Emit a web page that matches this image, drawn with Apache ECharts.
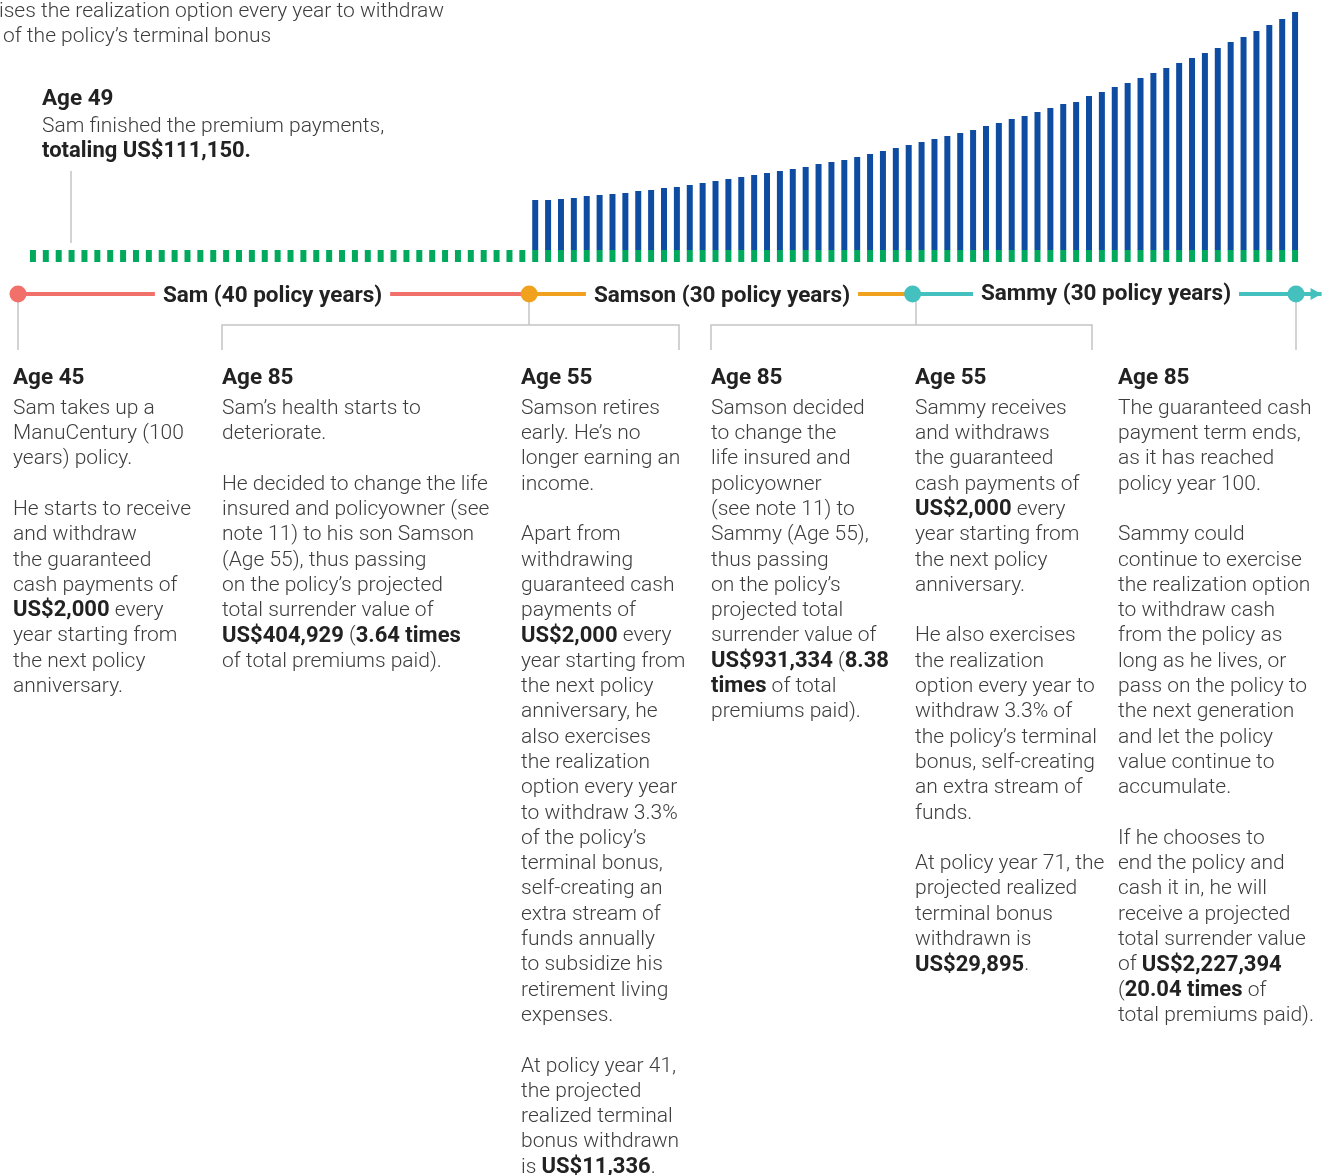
<!DOCTYPE html>
<html>
<head>
<meta charset="utf-8">
<title>ManuCentury policy timeline</title>
<script src="https://cdn.jsdelivr.net/npm/echarts@6/dist/echarts.min.js"></script>
<style>
  html, body { margin: 0; padding: 0; background: #fff; }
  #chart { width: 1332px; height: 1175px; }
</style>
</head>
<body>
<div id="chart"></div>
<script>
// policy years shown as bars (one bar per year)
const years = Array.from({ length: 99 }, (_, i) => i + 1);

// guaranteed cash payment (green, relative height)
const cashPayment = [
  12, 12, 12, 12, 12, 12, 12, 12, 12, 12, 12, 12, 12, 12, 12, 12, 12, 12, 12, 12,
  12, 12, 12, 12, 12, 12, 12, 12, 12, 12, 12, 12, 12, 12, 12, 12, 12, 12, 12, 12,
  12, 12, 12, 12, 12, 12, 12, 12, 12, 12, 12, 12, 12, 12, 12, 12, 12, 12, 12, 12,
  12, 12, 12, 12, 12, 12, 12, 12, 12, 12, 12, 12, 12, 12, 12, 12, 12, 12, 12, 12,
  12, 12, 12, 12, 12, 12, 12, 12, 12, 12, 12, 12, 12, 12, 12, 12, 12, 12, 12
];

// realized terminal bonus (blue, relative height), starts at the 40th bar
const bonusStart = 39;
const bonusValue = [
  50, 50, 51, 52, 54, 55, 56, 57, 59, 60, 62, 63, 65, 67, 69, 71, 73, 75, 77, 79,
  81, 83, 86, 88, 90, 93, 96, 99, 102, 105, 108, 111, 114, 117, 120, 124, 127, 131, 134, 138,
  142, 146, 148, 154, 158, 163, 167, 172, 177, 182, 187, 192, 197, 202, 208, 213, 219, 225, 231, 238
];

// timeline phases (policy years); the last entry is where the arrow ends
const phaseYears = [0, 40, 70, 100];
const arrowEnd = 102;
const phaseNames = ['Sam (40 policy years)', 'Samson (30 policy years)', 'Sammy (30 policy years)'];

// notes under the timeline
const notes = [
  { head: 'Age 45', lines: [
    'Sam takes up a', 'ManuCentury (100', 'years) policy.', ' ',
    'He starts to receive', 'and withdraw', 'the guaranteed', 'cash payments of',
    '{b|US$2,000} every', 'year starting from', 'the next policy', 'anniversary.'] },
  { head: 'Age 85', lines: [
    'Sam\u2019s health starts to', 'deteriorate.', ' ',
    'He decided to change the life', 'insured and policyowner (see', 'note 11) to his son Samson',
    '(Age 55), thus passing', 'on the policy\u2019s projected', 'total surrender value of',
    '{b|US$404,929} ({b|3.64 times}', 'of total premiums paid).'] },
  { head: 'Age 55', lines: [
    'Samson retires', 'early. He\u2019s no', 'longer earning an', 'income.', ' ',
    'Apart from', 'withdrawing', 'guaranteed cash', 'payments of', '{b|US$2,000} every',
    'year starting from', 'the next policy', 'anniversary, he', 'also exercises',
    'the realization', 'option every year', 'to withdraw 3.3%', 'of the policy\u2019s',
    'terminal bonus,', 'self-creating an', 'extra stream of', 'funds annually',
    'to subsidize his', 'retirement living', 'expenses.', ' ',
    'At policy year 41,', 'the projected', 'realized terminal', 'bonus withdrawn',
    'is {b|US$11,336}.'] },
  { head: 'Age 85', lines: [
    'Samson decided', 'to change the', 'life insured and', 'policyowner',
    '(see note 11) to', 'Sammy (Age 55),', 'thus passing', 'on the policy\u2019s',
    'projected total', 'surrender value of', '{b|US$931,334} ({b|8.38}',
    '{b|times} of total', 'premiums paid).'] },
  { head: 'Age 55', lines: [
    'Sammy receives', 'and withdraws', 'the guaranteed', 'cash payments of',
    '{b|US$2,000} every', 'year starting from', 'the next policy', 'anniversary.', ' ',
    'He also exercises', 'the realization', 'option every year to', 'withdraw 3.3% of',
    'the policy\u2019s terminal', 'bonus, self-creating', 'an extra stream of', 'funds.', ' ',
    'At policy year 71, the', 'projected realized', 'terminal bonus', 'withdrawn is',
    '{b|US$29,895}.'] },
  { head: 'Age 85', lines: [
    'The guaranteed cash', 'payment term ends,', 'as it has reached', 'policy year 100.', ' ',
    'Sammy could', 'continue to exercise', 'the realization option', 'to withdraw cash',
    'from the policy as', 'long as he lives, or', 'pass on the policy to', 'the next generation',
    'and let the policy', 'value continue to', 'accumulate.', ' ',
    'If he chooses to', 'end the policy and', 'cash it in, he will', 'receive a projected',
    'total surrender value', 'of {b|US$2,227,394}', '({b|20.04 times} of',
    'total premiums paid).'] }
];
const noteX = [13, 222, 521, 711, 915, 1118];

const FONT = 'Roboto, "Noto Sans", sans-serif';
const BODY = '#3d3d3d';
const DARK = '#222';
const GREY = '#c4c4c4';
const LH = 25.3;
const DY = 2.5; // optical shift so glyphs sit like the reference

const chart = echarts.init(document.getElementById('chart'));

function bodyText(x, cy, lines) {
  return {
    type: 'text', z: 10,
    style: {
      x: x, y: cy - LH / 2 + DY, text: lines.join('\n'),
      fontFamily: FONT, fontSize: 21, fontWeight: 300, fill: BODY,
      lineHeight: LH, verticalAlign: 'top',
      rich: { b: { fontFamily: FONT, fontSize: 22, fontWeight: 'bold', fill: DARK, lineHeight: LH } }
    }
  };
}
function headText(x, cy, text) {
  return {
    type: 'text', z: 10,
    style: { x: x, y: cy + DY, text: text, fontFamily: FONT, fontSize: 22.5, fontWeight: 'bold',
      fill: DARK, verticalAlign: 'middle' }
  };
}
function greyLine(points) {
  return { type: 'polyline', z: 1, shape: { points: points },
    style: { stroke: GREY, lineWidth: 1.5, fill: null } };
}
function phaseLabel(cx, cy, text) {
  return {
    type: 'text', z: 20,
    style: { x: cx, y: cy + DY, text: text, fontFamily: FONT, fontSize: 22.5, fontWeight: 'bold',
      fill: DARK, align: 'center', verticalAlign: 'middle',
      backgroundColor: '#fff', padding: [2, 8] }
  };
}

const graphic = [
  // clipped annotation at the top-left
  bodyText(-1, 9, ['ises the realization option every year to withdraw']),
  bodyText(3, 34, ['of the policy\u2019s terminal bonus']),
  // age 49 callout
  headText(42, 97, 'Age 49'),
  bodyText(42, 124, ['Sam finished the premium payments,', '{b|totaling US$111,150.}']),
  greyLine([[71, 171], [71, 243]]),
  // connectors and brackets below the timeline
  greyLine([[18, 294], [18, 350]]),
  greyLine([[529, 294], [529, 325]]),
  greyLine([[222, 350], [222, 325], [679, 325], [679, 350]]),
  greyLine([[916, 294], [916, 325]]),
  greyLine([[711, 350], [711, 325], [1092, 325], [1092, 350]]),
  greyLine([[1296, 294], [1296, 350]]),
  phaseLabel(272.5, 294, phaseNames[0]),
  phaseLabel(722, 294, phaseNames[1]),
  phaseLabel(1106, 292, phaseNames[2])
];
notes.forEach(function (n, i) {
  graphic.push(headText(noteX[i], 376, n.head));
  graphic.push(bodyText(noteX[i], 406, n.lines));
});

const phaseColors = ['#f2706a', '#f0a21f', '#44c1be'];
const timelineSeries = [0, 1, 2].map(function (i) {
  const data = [
    { value: [phaseYears[i], 0] },
    { value: [phaseYears[i + 1], 0], symbol: i === 2 ? 'circle' : 'none' }
  ];
  if (i === 2) {
    data.push({ value: [arrowEnd, 0], symbol: 'triangle', symbolRotate: -90,
      symbolSize: [12, 11], symbolOffset: [-5.5, 0] });
  }
  return {
    type: 'line', xAxisIndex: 1, yAxisIndex: 1, z: 5, clip: false,
    data: data, symbol: 'circle', symbolSize: 17, showSymbol: true, showAllSymbol: true,
    itemStyle: { color: phaseColors[i], borderWidth: 0 },
    lineStyle: { color: phaseColors[i], width: 4 },
    emphasis: { disabled: true }, silent: true
  };
});

const option = {
  animation: false,
  backgroundColor: '#fff',
  grid: [
    { left: 26.5, width: 1275, top: 12, height: 250 },
    // 12.78 px per policy year, axis runs to the arrow end
    { left: 18, width: 12.78 * arrowEnd, top: 284, height: 20 }
  ],
  xAxis: [
    { type: 'category', data: years, gridIndex: 0, show: false },
    { type: 'value', min: 0, max: arrowEnd, gridIndex: 1, show: false }
  ],
  yAxis: [
    { type: 'value', min: 0, max: 250, gridIndex: 0, show: false },
    { type: 'value', min: -1, max: 1, gridIndex: 1, show: false }
  ],
  series: [
    {
      name: 'Guaranteed cash payment', type: 'bar', stack: 'v', barWidth: 6,
      data: cashPayment, itemStyle: { color: '#00a95c' }, silent: true
    },
    {
      name: 'Realized terminal bonus', type: 'bar', stack: 'v', barWidth: 6,
      data: new Array(bonusStart).fill(null).concat(bonusValue),
      itemStyle: { color: '#0e4ca1' }, silent: true
    }
  ].concat(timelineSeries),
  graphic: graphic
};
chart.setOption(option);
</script>
</body>
</html>
